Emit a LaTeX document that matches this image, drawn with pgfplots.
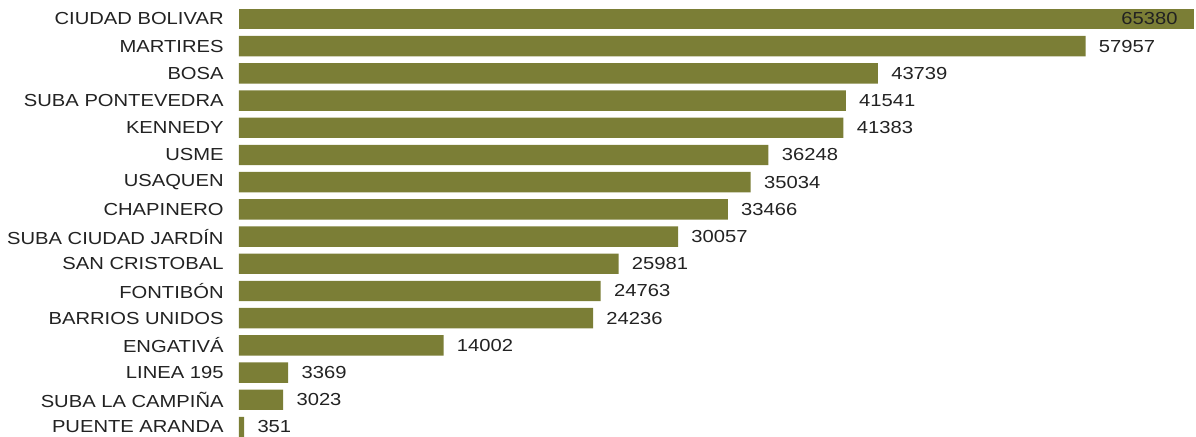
\documentclass[border=0pt]{standalone}
\usepackage{fontspec}
\setmainfont{Liberation Sans}[FakeStretch=1.16]
\usepackage{pgfplots}
\pgfplotsset{compat=1.18}
\definecolor{barcol}{RGB}{123,126,54}
\definecolor{txt}{RGB}{34,34,34}
\begin{document}
\begin{tikzpicture}
\useasboundingbox (0,0) rectangle (598pt,218.5pt);
\begin{axis}[
  at={(119.5pt,215.8pt)}, anchor=north west,
  scale only axis, width=477.5pt, height=217.6pt,
  xmin=0, xmax=65380, ymin=-0.5, ymax=15.5, y dir=reverse,
  enlargelimits=false, clip=false,
  axis line style={draw=none}, major tick length=0pt,
  xtick=\empty, ytick={0,...,15},
  yticklabels={CIUDAD BOLIVAR,MARTIRES,BOSA,SUBA PONTEVEDRA,KENNEDY,USME,USAQUEN,CHAPINERO,SUBA CIUDAD JARDÍN,SAN CRISTOBAL,FONTIBÓN,BARRIOS UNIDOS,ENGATIVÁ,LINEA 195,SUBA LA CAMPIÑA,PUENTE ARANDA},
  y tick label style={anchor=east, inner sep=0pt, xshift=-7.5pt, font=\fontsize{8.7}{10}\selectfont, text=txt},
]
\addplot[xbar, fill=barcol, draw=none, bar width=0.75, bar shift=0pt,
  point meta=explicit symbolic, nodes near coords,
  nodes near coords style={anchor=west, inner sep=0pt, xshift=6.5pt, font=\fontsize{8.7}{10}\selectfont, text=txt}]
coordinates {
(57957,1) [57957]
(43739,2) [43739]
(41541,3) [41541]
(41383,4) [41383]
(36248,5) [36248]
(35034,6) [35034]
(33466,7) [33466]
(30057,8) [30057]
(25981,9) [25981]
(24763,10) [24763]
(24236,11) [24236]
(14002,12) [14002]
(3369,13) [3369]
(3023,14) [3023]
(351,15) [351]
};
\addplot[xbar, fill=barcol, draw=none, bar width=0.75, bar shift=0pt,
  point meta=explicit symbolic, nodes near coords,
  nodes near coords style={anchor=east, inner sep=0pt, xshift=-8pt, font=\fontsize{8.7}{10}\selectfont, text=txt}]
coordinates {
(65380,0) [65380]
};
\end{axis}
\end{tikzpicture}
\end{document}
